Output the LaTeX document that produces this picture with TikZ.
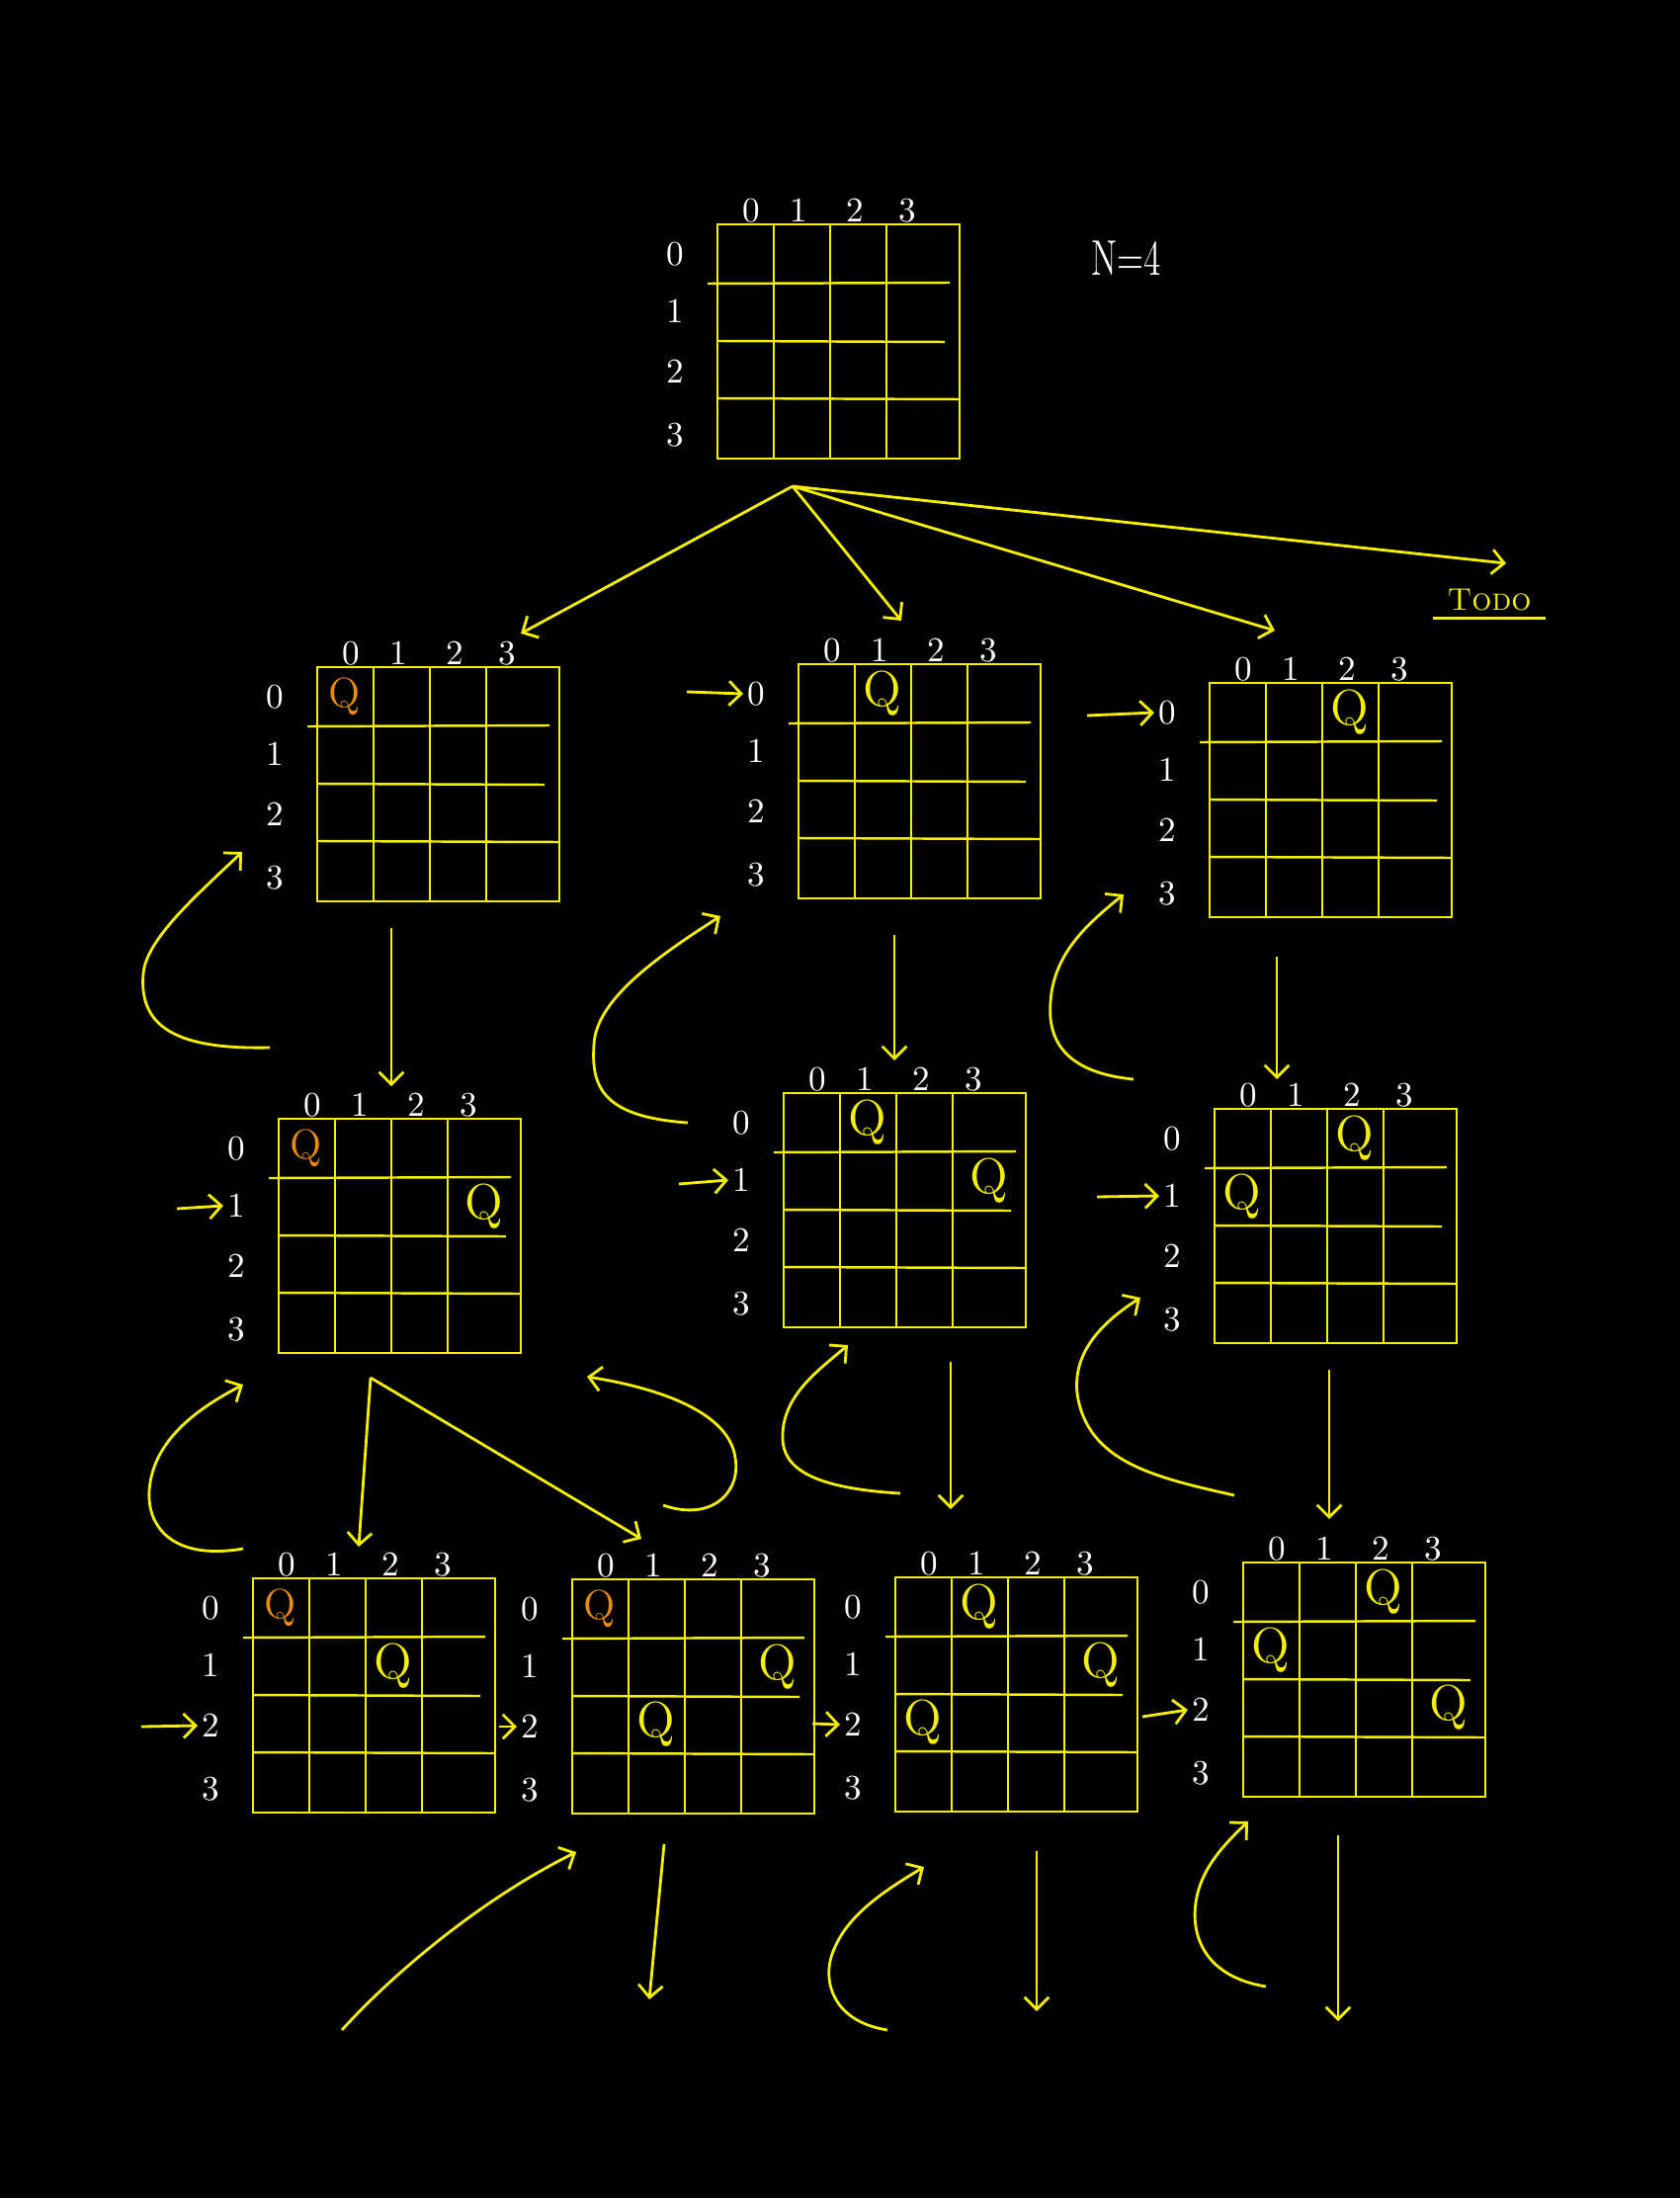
\documentclass[tikz,border=0pt]{standalone}
\usepackage{graphicx}
\usepackage{tikz}
\usetikzlibrary{arrows.meta}
\definecolor{qyellow}{RGB}{245,240,0}
\definecolor{qorange}{RGB}{235,140,0}

\begin{document}
\begin{tikzpicture}[x=0.1mm,y=-0.1mm,
    grid/.style={qyellow,line width=0.7pt},
    arr/.style={qyellow,line width=0.8pt,-{Straight Barb[length=3.5pt,width=7pt]}},
    lbl/.style={white,inner sep=1pt},
    queen/.style={qyellow,font=\Large,inner sep=1pt},
    first/.style={qorange,font=\large,inner sep=1pt}]
        % --- 背景 ---
        \fill[black] (0,0) rectangle (1700,2224);

        % 盤面 (名前, 左上 x, 左上 y)
        \def\board#1#2#3{%
          \begin{scope}[shift={(#2,#3)}]
            \draw[grid] (0,0) rectangle (245,237);
            \foreach \c in {57,114,171}
              \draw[grid] (\c,0) -- (\c,237);
            \draw[grid] (-10,60) -- (235,59);
            \draw[grid] (0,118) -- (230,119);
            \draw[grid] (0,176) -- (245,177);
            \foreach \i/\x in {0/34,1/82,2/139,3/192}
              \node[lbl] (#1-c\i) at (\x,-14) {\i};
            \foreach \i/\y in {0/30,1/88,2/149,3/213}
              \node[lbl] (#1-r\i) at (-43,\y) {\i};
            \foreach \i/\y in {0/30,1/89,2/147,3/206}
              \foreach \j/\x in {0/28,1/85,2/142,3/208}
                \coordinate (#1-\i\j) at (\x,\y);
          \end{scope}}

        % --- 盤面 ---
        \board{root}{726}{227}
        \board{A}{321}{675}
        \board{B}{808}{672}
        \board{C}{1224}{691}
        \board{D}{282}{1132}
        \board{E}{793}{1106}
        \board{F}{1229}{1122}
        \board{G}{256}{1597}
        \board{H}{579}{1598}
        \board{I}{906}{1596}
        \board{J}{1258}{1581}

        % --- クイーン ---
        \node[first] (A-q0) at (A-00) {Q};
        \node[queen] (B-q0) at (B-01) {Q};
        \node[queen] (C-q0) at (C-02) {Q};
        \node[first] (D-q0) at (D-00) {Q};
        \node[queen] (D-q1) at (D-13) {Q};
        \node[queen] (E-q0) at (E-01) {Q};
        \node[queen] (E-q1) at (E-13) {Q};
        \node[queen] (F-q0) at (F-02) {Q};
        \node[queen] (F-q1) at (F-10) {Q};
        \node[first] (G-q0) at (G-00) {Q};
        \node[queen] (G-q1) at (G-12) {Q};
        \node[first] (H-q0) at (H-00) {Q};
        \node[queen] (H-q1) at (H-13) {Q};
        \node[queen] (H-q2) at (H-21) {Q};
        \node[queen] (I-q0) at (I-01) {Q};
        \node[queen] (I-q1) at (I-13) {Q};
        \node[queen] (I-q2) at (I-20) {Q};
        \node[queen] (J-q0) at (J-02) {Q};
        \node[queen] (J-q1) at (J-10) {Q};
        \node[queen] (J-q2) at (J-23) {Q};

        % ラベル
        \node[white,font=\Large] (size) at (1140,261) {\scalebox{0.7}[1]{N=4}};
        \node[qyellow,font=\small,inner sep=1pt] (todo) at (1507,607) {\textsc{Todo}};
        \draw[qyellow,line width=0.8pt]
          ([xshift=-3pt,yshift=-1pt]todo.south west) -- ([xshift=3pt,yshift=-1pt]todo.south east);

        % --- 分岐 ---
        \coordinate (fork) at (802,492);
        \coordinate (toA) at (527,641);
        \coordinate (toB) at (912,628);
        \coordinate (toC) at (1290,638);
        \coordinate (toTodo) at (1524,570);
        \draw[arr] (fork) -- (toA);
        \draw[arr] (fork) -- (toB);
        \draw[arr] (fork) -- (toC);
        \draw[arr] (fork) -- (toTodo);

        % 行の矢印
        \coordinate (B-in) at (695,700);
        \coordinate (C-in) at (1100,724);
        \coordinate (D-in) at (179,1223);
        \coordinate (E-in) at (687,1198);
        \coordinate (F-in) at (1110,1211);
        \coordinate (G-in) at (143,1747);
        \coordinate (H-in) at (505,1747);
        \coordinate (I-in) at (822,1744);
        \coordinate (J-in) at (1156,1737);
        \draw[arr] (B-in) -- (B-r0.west);
        \draw[arr] (C-in) -- (C-r0.west);
        \draw[arr] (D-in) -- (D-r1.west);
        \draw[arr] (E-in) -- (E-r1.west);
        \draw[arr] (F-in) -- (F-r1.west);
        \draw[arr] (G-in) -- (G-r2.west);
        \draw[arr] (H-in) -- (H-r2.west);
        \draw[arr] (I-in) -- (I-r2.west);
        \draw[arr] (J-in) -- (J-r2.west);

        % --- 下向きの矢印 ---
        \coordinate (A-dn) at (396,939);   \coordinate (D-up) at (396,1099);
        \coordinate (B-dn) at (905,946);   \coordinate (E-up) at (905,1073);
        \coordinate (C-dn) at (1292,968);  \coordinate (F-up) at (1292,1092);
        \coordinate (E-dn) at (962,1378);  \coordinate (I-up) at (962,1527);
        \coordinate (F-dn) at (1345,1386); \coordinate (J-up) at (1345,1537);
        \coordinate (D-dn) at (375,1394);
        \coordinate (G-up) at (363,1565);  \coordinate (H-up) at (649,1557);
        \draw[arr] (A-dn) -- (D-up);
        \draw[arr] (B-dn) -- (E-up);
        \draw[arr] (C-dn) -- (F-up);
        \draw[arr] (E-dn) -- (I-up);
        \draw[arr] (F-dn) -- (J-up);
        \draw[arr] (D-dn) -- (G-up);
        \draw[arr] (D-dn) -- (H-up);

        \coordinate (H-dn) at (672,1866);  \coordinate (H-end) at (657,2023);
        \coordinate (I-dn) at (1049,1873); \coordinate (I-end) at (1049,2035);
        \coordinate (J-dn) at (1354,1857); \coordinate (J-end) at (1354,2045);
        \draw[arr] (H-dn) -- (H-end);
        \draw[arr] (I-dn) -- (I-end);
        \draw[arr] (J-dn) -- (J-end);

        % --- 戻りの矢印 ---
        \draw[arr] (273,1060) .. controls (180,1062) and (140,1040) .. (145,985)
          .. controls (148,950) and (200,905) .. (245,862);
        \draw[arr] (696,1136) .. controls (610,1130) and (598,1100) .. (601,1057)
          .. controls (603,1010) and (670,965) .. (729,927);
        \draw[arr] (1147,1092) .. controls (1075,1085) and (1060,1050) .. (1063,1014)
          .. controls (1066,965) and (1100,935) .. (1137,905);
        \draw[arr] (246,1567) .. controls (170,1580) and (145,1540) .. (152,1500)
          .. controls (160,1450) and (210,1420) .. (246,1401);
        \draw[arr] (671,1523) .. controls (720,1540) and (750,1510) .. (744,1475)
          .. controls (738,1430) and (670,1405) .. (594,1393);
        \draw[arr] (911,1511) .. controls (810,1505) and (790,1480) .. (792,1450)
          .. controls (794,1410) and (830,1385) .. (858,1361);
        \draw[arr] (1249,1513) .. controls (1170,1495) and (1100,1480) .. (1090,1410)
          .. controls (1085,1365) and (1120,1335) .. (1154,1313);
        \draw[arr] (346,2054) .. controls (390,2005) and (480,1925) .. (583,1874);
        \draw[arr] (898,2054) .. controls (840,2045) and (830,2000) .. (845,1970)
          .. controls (860,1935) and (900,1910) .. (935,1889);
        \draw[arr] (1281,2010) .. controls (1220,2000) and (1205,1960) .. (1210,1925)
          .. controls (1215,1890) and (1240,1865) .. (1263,1843);
      \end{tikzpicture}
\end{document}
